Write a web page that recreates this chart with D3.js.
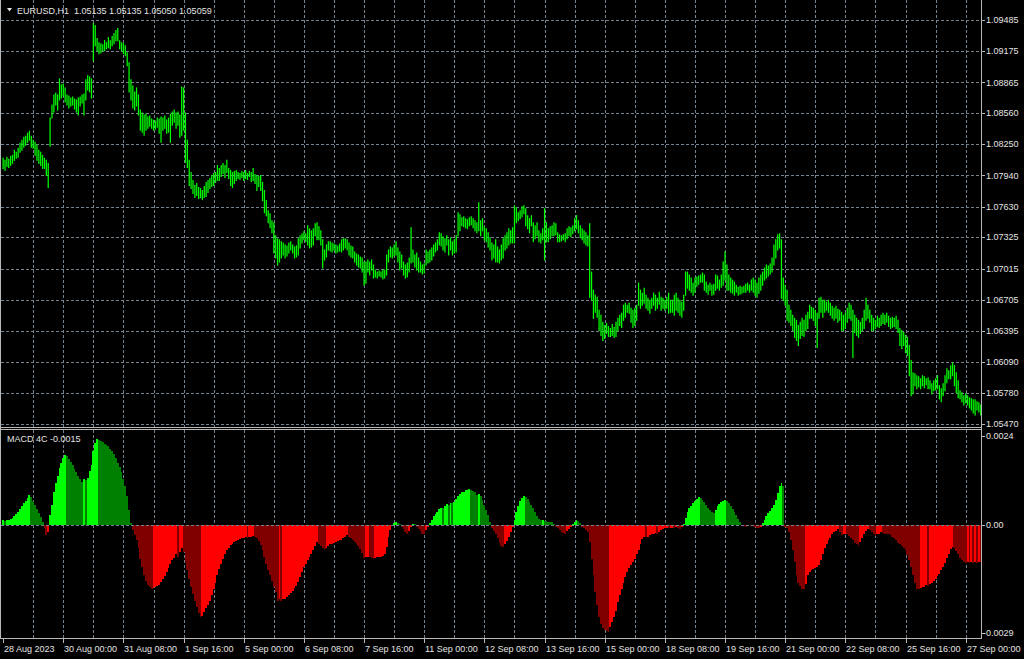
<!DOCTYPE html>
<html><head><meta charset="utf-8">
<script src="https://cdn.jsdelivr.net/npm/d3@7"></script>
<style>html,body{margin:0;padding:0;background:#000;overflow:hidden}</style>
</head><body>
<svg id="c" width="1024" height="659"></svg>
<script>
const symbolTitle = "EURUSD,H1  1.05135 1.05135 1.05050 1.05059";
const macdTitle = "MACD 4C -0.0015";
const tickBars = [0,32,64,96,128,160,192,224,256,288,320,352,384,416,448,480,512];
const tickLabels = ["28 Aug 2023","30 Aug 00:00","31 Aug 08:00","1 Sep 16:00","5 Sep 00:00","6 Sep 08:00","7 Sep 16:00","11 Sep 00:00","12 Sep 08:00","13 Sep 16:00","15 Sep 00:00","18 Sep 08:00","19 Sep 16:00","21 Sep 00:00","22 Sep 08:00","25 Sep 16:00","27 Sep 00:00"];
const priceTicks = [1.09485,1.09175,1.08865,1.08560,1.08250,1.07940,1.07630,1.07325,1.07015,1.06705,1.06395,1.06090,1.05780,1.05470];
const macdTicks = [0.0024,0,-0.0029];
const macdTickLabels = ["0.0024","0.00","-0.0029"];

const high = [
1.0811,1.0809,1.0812,1.0810,1.0813,1.0814,1.0819,1.0817,1.0821,1.0826,
1.0829,1.0832,1.0833,1.0836,1.0838,1.0833,1.0829,1.0827,1.0824,1.0819,
1.0817,1.0814,1.0811,1.0809,1.0806,1.0851,1.0864,1.0874,1.0876,1.0874,
1.0890,1.0884,1.0885,1.0881,1.0874,1.0873,1.0871,1.0872,1.0870,1.0869,
1.0871,1.0872,1.0874,1.0875,1.0889,1.0893,1.0892,1.0890,1.0945,1.0943,
1.0930,1.0926,1.0925,1.0924,1.0928,1.0926,1.0931,1.0928,1.0932,1.0935,
1.0938,1.0940,1.0928,1.0926,1.0925,1.0923,1.0916,1.0906,1.0889,1.0883,
1.0877,1.0881,1.0874,1.0859,1.0856,1.0854,1.0855,1.0852,1.0853,1.0850,
1.0849,1.0848,1.0851,1.0850,1.0852,1.0851,1.0853,1.0849,1.0851,1.0855,
1.0857,1.0859,1.0856,1.0857,1.0854,1.0882,1.0881,1.0856,1.0829,1.0809,
1.0797,1.0789,1.0784,1.0786,1.0782,1.0781,1.0779,1.0783,1.0787,1.0789,
1.0791,1.0794,1.0796,1.0797,1.0804,1.0801,1.0804,1.0806,1.0804,1.0809,
1.0801,1.0799,1.0797,1.0798,1.0799,1.0797,1.0796,1.0798,1.0797,1.0799,
1.0796,1.0798,1.0797,1.0801,1.0795,1.0794,1.0793,1.0794,1.0787,1.0779,
1.0769,1.0759,1.0756,1.0749,1.0747,1.0734,1.0731,1.0730,1.0728,1.0727,
1.0725,1.0724,1.0727,1.0728,1.0725,1.0723,1.0724,1.0731,1.0734,1.0736,
1.0738,1.0736,1.0744,1.0741,1.0739,1.0741,1.0746,1.0747,1.0743,1.0739,
1.0730,1.0720,1.0725,1.0728,1.0728,1.0727,1.0726,1.0725,1.0724,1.0726,
1.0730,1.0731,1.0731,1.0730,1.0727,1.0724,1.0723,1.0718,1.0716,1.0715,
1.0713,1.0712,1.0708,1.0708,1.0710,1.0708,1.0710,1.0705,1.0700,1.0698,
1.0699,1.0698,1.0700,1.0700,1.0715,1.0720,1.0723,1.0722,1.0725,1.0728,
1.0722,1.0718,1.0715,1.0708,1.0705,1.0707,1.0712,1.0742,1.0720,1.0715,
1.0717,1.0712,1.0708,1.0705,1.0706,1.0720,1.0718,1.0720,1.0722,1.0725,
1.0727,1.0730,1.0737,1.0736,1.0733,1.0731,1.0734,1.0730,1.0732,1.0728,
1.0730,1.0734,1.0757,1.0755,1.0752,1.0753,1.0751,1.0750,1.0752,1.0753,
1.0751,1.0749,1.0747,1.0767,1.0749,1.0751,1.0743,1.0741,1.0737,1.0732,
1.0727,1.0725,1.0730,1.0723,1.0720,1.0725,1.0731,1.0734,1.0737,1.0741,
1.0739,1.0742,1.0764,1.0762,1.0757,1.0759,1.0763,1.0764,1.0761,1.0754,
1.0751,1.0754,1.0747,1.0744,1.0747,1.0739,1.0736,1.0741,1.0761,1.0747,
1.0741,1.0743,1.0744,1.0747,1.0746,1.0737,1.0735,1.0734,1.0735,1.0736,
1.0741,1.0743,1.0742,1.0744,1.0751,1.0754,1.0749,1.0744,1.0741,1.0739,
1.0737,1.0734,1.0746,1.0698,1.0680,1.0675,1.0673,1.0660,1.0655,1.0648,
1.0645,1.0647,1.0644,1.0642,1.0646,1.0643,1.0648,1.0652,1.0655,1.0657,
1.0665,1.0667,1.0665,1.0667,1.0662,1.0660,1.0662,1.0665,1.0687,1.0680,
1.0677,1.0682,1.0675,1.0672,1.0670,1.0672,1.0677,1.0675,1.0672,1.0678,
1.0673,1.0672,1.0670,1.0673,1.0677,1.0670,1.0670,1.0675,1.0677,1.0672,
1.0670,1.0668,1.0675,1.0698,1.0698,1.0695,1.0692,1.0687,1.0692,1.0693,
1.0694,1.0695,1.0697,1.0695,1.0688,1.0685,1.0687,1.0685,1.0686,1.0695,
1.0694,1.0690,1.0695,1.0708,1.0718,1.0705,1.0695,1.0692,1.0690,1.0688,
1.0685,1.0683,1.0684,1.0683,1.0684,1.0686,1.0687,1.0685,1.0690,1.0692,
1.0690,1.0687,1.0692,1.0695,1.0698,1.0702,1.0705,1.0704,1.0706,1.0712,
1.0725,1.0730,1.0735,1.0736,1.0730,1.0692,1.0685,1.0680,1.0665,1.0660,
1.0655,1.0652,1.0650,1.0645,1.0648,1.0652,1.0650,1.0655,1.0658,1.0665,
1.0663,1.0662,1.0660,1.0657,1.0672,1.0673,1.0670,1.0670,1.0668,1.0670,
1.0667,1.0664,1.0662,1.0664,1.0661,1.0660,1.0658,1.0655,1.0657,1.0662,
1.0667,1.0665,1.0660,1.0655,1.0652,1.0650,1.0648,1.0652,1.0660,1.0672,
1.0665,1.0660,1.0655,1.0652,1.0650,1.0654,1.0652,1.0655,1.0657,1.0655,
1.0657,1.0654,1.0652,1.0653,1.0652,1.0654,1.0650,1.0642,1.0640,1.0638,
1.0635,1.0633,1.0625,1.0610,1.0598,1.0597,1.0595,1.0594,1.0592,1.0595,
1.0594,1.0592,1.0593,1.0590,1.0587,1.0590,1.0592,1.0595,1.0585,1.0582,
1.0587,1.0595,1.0602,1.0600,1.0605,1.0608,1.0605,1.0598,1.0590,1.0580,
1.0578,1.0575,1.0577,1.0575,1.0573,1.0572,1.0571,1.0571,1.0569,1.0568,1.0566];

const low = [
1.0801,1.0799,1.0803,1.0802,1.0804,1.0806,1.0809,1.0811,1.0812,1.0817,
1.0819,1.0822,1.0824,1.0827,1.0829,1.0822,1.0821,1.0814,1.0809,1.0806,
1.0804,1.0801,1.0801,1.0794,1.0782,1.0823,1.0851,1.0857,1.0864,1.0859,
1.0869,1.0871,1.0873,1.0867,1.0864,1.0861,1.0863,1.0864,1.0860,1.0857,
1.0854,1.0863,1.0866,1.0854,1.0869,1.0879,1.0877,1.0871,1.0908,1.0923,
1.0918,1.0915,1.0916,1.0918,1.0918,1.0920,1.0921,1.0920,1.0923,1.0925,
1.0928,1.0928,1.0920,1.0918,1.0915,1.0913,1.0903,1.0877,1.0869,1.0861,
1.0859,1.0863,1.0854,1.0839,1.0837,1.0834,1.0839,1.0841,1.0843,1.0841,
1.0839,1.0840,1.0842,1.0836,1.0827,1.0839,1.0841,1.0836,1.0837,1.0827,
1.0844,1.0847,1.0841,1.0844,1.0832,1.0834,1.0839,1.0807,1.0802,1.0784,
1.0781,1.0776,1.0772,1.0774,1.0771,1.0772,1.0770,1.0772,1.0773,1.0777,
1.0781,1.0783,1.0784,1.0787,1.0789,1.0789,1.0793,1.0796,1.0792,1.0797,
1.0791,1.0784,1.0782,1.0786,1.0789,1.0791,1.0790,1.0792,1.0789,1.0791,
1.0790,1.0793,1.0788,1.0789,1.0786,1.0779,1.0783,1.0779,1.0769,1.0757,
1.0754,1.0747,1.0742,1.0737,1.0717,1.0712,1.0705,1.0708,1.0712,1.0715,
1.0712,1.0714,1.0717,1.0720,1.0717,1.0712,1.0713,1.0715,1.0722,1.0727,
1.0730,1.0728,1.0725,1.0722,1.0723,1.0725,1.0734,1.0730,1.0730,1.0725,
1.0702,1.0710,1.0713,1.0720,1.0719,1.0718,1.0720,1.0717,1.0718,1.0719,
1.0718,1.0720,1.0722,1.0720,1.0715,1.0713,1.0712,1.0708,1.0705,1.0703,
1.0702,1.0698,1.0685,1.0687,1.0698,1.0695,1.0700,1.0692,1.0693,1.0692,
1.0694,1.0693,1.0691,1.0692,1.0695,1.0708,1.0713,1.0712,1.0714,1.0715,
1.0708,1.0700,1.0702,1.0695,1.0692,1.0693,1.0698,1.0707,1.0708,1.0703,
1.0700,1.0698,1.0698,1.0696,1.0697,1.0705,1.0707,1.0708,1.0710,1.0714,
1.0718,1.0720,1.0725,1.0724,1.0720,1.0718,1.0725,1.0715,1.0720,1.0715,
1.0717,1.0718,1.0734,1.0739,1.0744,1.0743,1.0742,1.0741,1.0744,1.0745,
1.0742,1.0739,1.0737,1.0739,1.0734,1.0739,1.0730,1.0728,1.0723,1.0720,
1.0710,1.0712,1.0708,1.0708,1.0707,1.0710,1.0712,1.0720,1.0722,1.0725,
1.0727,1.0727,1.0727,1.0747,1.0749,1.0751,1.0753,1.0756,1.0744,1.0741,
1.0737,1.0744,1.0728,1.0731,1.0734,1.0728,1.0727,1.0730,1.0710,1.0728,
1.0728,1.0731,1.0734,1.0734,1.0735,1.0728,1.0728,1.0729,1.0730,1.0728,
1.0731,1.0734,1.0733,1.0736,1.0739,1.0741,1.0737,1.0732,1.0730,1.0727,
1.0725,1.0724,1.0673,1.0670,1.0652,1.0658,1.0653,1.0640,1.0635,1.0630,
1.0632,1.0637,1.0634,1.0634,1.0635,1.0633,1.0634,1.0640,1.0645,1.0643,
1.0650,1.0653,1.0658,1.0657,1.0648,1.0643,1.0645,1.0650,1.0665,1.0662,
1.0665,1.0667,1.0662,1.0660,1.0657,1.0662,1.0665,1.0660,1.0662,1.0666,
1.0660,1.0662,1.0660,1.0662,1.0657,1.0658,1.0658,1.0655,1.0660,1.0658,
1.0655,1.0653,1.0660,1.0675,1.0682,1.0680,1.0678,1.0675,1.0678,1.0684,
1.0686,1.0688,1.0688,1.0680,1.0678,1.0676,1.0680,1.0675,1.0676,1.0680,
1.0682,1.0680,1.0683,1.0685,1.0690,1.0680,1.0680,1.0678,1.0677,1.0675,
1.0678,1.0675,1.0676,1.0677,1.0678,1.0678,1.0680,1.0678,1.0680,1.0678,
1.0675,1.0673,1.0677,1.0680,1.0685,1.0690,1.0692,1.0694,1.0696,1.0698,
1.0705,1.0712,1.0720,1.0722,1.0672,1.0670,1.0665,1.0650,1.0648,1.0645,
1.0640,1.0633,1.0630,1.0625,1.0632,1.0635,1.0634,1.0640,1.0642,1.0652,
1.0652,1.0650,1.0645,1.0623,1.0652,1.0658,1.0653,1.0658,1.0660,1.0658,
1.0655,1.0652,1.0650,1.0652,1.0648,1.0650,1.0640,1.0640,1.0642,1.0648,
1.0652,1.0650,1.0613,1.0638,1.0635,1.0633,1.0637,1.0640,1.0642,1.0650,
1.0652,1.0648,1.0640,1.0640,1.0642,1.0644,1.0643,1.0645,1.0647,1.0646,
1.0648,1.0644,1.0642,1.0643,1.0644,1.0642,1.0638,1.0625,1.0622,1.0625,
1.0618,1.0615,1.0595,1.0575,1.0577,1.0585,1.0582,1.0584,1.0582,1.0585,
1.0583,1.0586,1.0582,1.0582,1.0577,1.0580,1.0581,1.0582,1.0572,1.0569,
1.0575,1.0580,1.0588,1.0592,1.0592,1.0595,1.0585,1.0578,1.0573,1.0572,
1.0569,1.0566,1.0568,1.0566,1.0563,1.0561,1.0558,1.0556,1.0561,1.0559,1.0556];

const macd = [
13e-5,12e-5,13e-5,14e-5,16e-5,20e-5,25e-5,30e-5,36e-5,43e-5,
50e-5,58e-5,65e-5,72e-5,81e-5,74e-5,65e-5,54e-5,43e-5,32e-5,
22e-5,9e-5,-7e-5,-27e-5,-20e-5,27e-5,54e-5,90e-5,113e-5,131e-5,
153e-5,167e-5,180e-5,189e-5,185e-5,177e-5,169e-5,160e-5,151e-5,142e-5,
133e-5,124e-5,115e-5,123e-5,122e-5,126e-5,144e-5,162e-5,198e-5,221e-5,
230e-5,228e-5,225e-5,222e-5,219e-5,216e-5,212e-5,205e-5,200e-5,192e-5,
180e-5,167e-5,156e-5,142e-5,124e-5,104e-5,77e-5,41e-5,5e-5,-14e-5,
-27e-5,-41e-5,-63e-5,-90e-5,-113e-5,-135e-5,-151e-5,-160e-5,-167e-5,-171e-5,
-169e-5,-167e-5,-165e-5,-160e-5,-153e-5,-146e-5,-137e-5,-126e-5,-115e-5,-104e-5,
-95e-5,-88e-5,-79e-5,-86e-5,-72e-5,-63e-5,-72e-5,-99e-5,-122e-5,-144e-5,
-167e-5,-185e-5,-203e-5,-221e-5,-236e-5,-248e-5,-245e-5,-234e-5,-223e-5,-214e-5,
-203e-5,-189e-5,-173e-5,-155e-5,-135e-5,-117e-5,-104e-5,-90e-5,-77e-5,-68e-5,
-61e-5,-54e-5,-50e-5,-45e-5,-42e-5,-41e-5,-38e-5,-36e-5,-34e-5,-32e-5,
-34e-5,-32e-5,-31e-5,-30e-5,-32e-5,-36e-5,-43e-5,-54e-5,-68e-5,-86e-5,
-104e-5,-122e-5,-135e-5,-149e-5,-167e-5,-180e-5,-203e-5,-200e-5,-205e-5,-200e-5,
-198e-5,-194e-5,-189e-5,-182e-5,-176e-5,-169e-5,-164e-5,-153e-5,-140e-5,-126e-5,
-113e-5,-104e-5,-95e-5,-86e-5,-77e-5,-68e-5,-56e-5,-45e-5,-50e-5,-56e-5,
-63e-5,-65e-5,-61e-5,-57e-5,-52e-5,-50e-5,-47e-5,-45e-5,-42e-5,-41e-5,
-39e-5,-36e-5,-32e-5,-27e-5,-32e-5,-36e-5,-41e-5,-45e-5,-50e-5,-56e-5,
-65e-5,-74e-5,-88e-5,-86e-5,-85e-5,-87e-5,-89e-5,-91e-5,-89e-5,-87e-5,
-86e-5,-85e-5,-83e-5,-79e-5,-59e-5,-32e-5,-14e-5,-3e-5,5e-5,7e-5,
5e-5,3e-5,-5e-5,-11e-5,-18e-5,-23e-5,-16e-5,-5e-5,4e-5,2e-5,
-5e-5,-11e-5,-16e-5,-23e-5,-24e-5,-14e-5,-5e-5,5e-5,14e-5,23e-5,
30e-5,36e-5,43e-5,47e-5,45e-5,50e-5,56e-5,54e-5,59e-5,58e-5,
63e-5,70e-5,77e-5,83e-5,88e-5,90e-5,94e-5,95e-5,97e-5,94e-5,
92e-5,90e-5,81e-5,83e-5,77e-5,66e-5,54e-5,41e-5,27e-5,7e-5,
-7e-5,-16e-5,-25e-5,-36e-5,-47e-5,-56e-5,-59e-5,-52e-5,-43e-5,-32e-5,
-18e-5,-5e-5,14e-5,36e-5,52e-5,65e-5,72e-5,77e-5,74e-5,70e-5,
63e-5,54e-5,45e-5,34e-5,25e-5,16e-5,13e-5,14e-5,12e-5,11e-5,
9e-5,8e-5,7e-5,3e-5,-5e-5,-9e-5,-14e-5,-18e-5,-22e-5,-23e-5,
-16e-5,-11e-5,-5e-5,3e-5,9e-5,14e-5,11e-5,5e-5,-5e-5,-7e-5,
-13e-5,-18e-5,-45e-5,-90e-5,-135e-5,-180e-5,-216e-5,-248e-5,-266e-5,-277e-5,
-281e-5,-284e-5,-286e-5,-275e-5,-261e-5,-248e-5,-230e-5,-207e-5,-189e-5,-171e-5,
-155e-5,-140e-5,-126e-5,-115e-5,-106e-5,-99e-5,-90e-5,-79e-5,-68e-5,-52e-5,
-38e-5,-32e-5,-33e-5,-31e-5,-27e-5,-25e-5,-23e-5,-22e-5,-23e-5,-18e-5,
-14e-5,-11e-5,-9e-5,-7e-5,-9e-5,-8e-5,-7e-5,-9e-5,-5e-5,-8e-5,
-11e-5,-5e-5,2e-5,18e-5,36e-5,45e-5,52e-5,59e-5,65e-5,70e-5,
76e-5,72e-5,68e-5,61e-5,54e-5,47e-5,41e-5,36e-5,32e-5,41e-5,
50e-5,56e-5,61e-5,65e-5,68e-5,65e-5,59e-5,51e-5,43e-5,36e-5,
27e-5,16e-5,7e-5,1e-5,-2e-5,-4e-5,-2e-5,-1e-5,-2e-5,-3e-5,
-5e-5,-7e-5,-9e-5,-5e-5,5e-5,14e-5,23e-5,32e-5,38e-5,45e-5,
54e-5,68e-5,86e-5,104e-5,113e-5,106e-5,-5e-5,-9e-5,-18e-5,-41e-5,
-68e-5,-99e-5,-135e-5,-155e-5,-164e-5,-171e-5,-173e-5,-158e-5,-135e-5,-126e-5,
-120e-5,-117e-5,-115e-5,-112e-5,-106e-5,-95e-5,-79e-5,-63e-5,-52e-5,-41e-5,
-34e-5,-23e-5,-18e-5,-15e-5,-11e-5,-20e-5,-27e-5,-25e-5,-23e-5,-25e-5,
-29e-5,-34e-5,-41e-5,-47e-5,-52e-5,-56e-5,-45e-5,-34e-5,-25e-5,-16e-5,
-11e-5,-14e-5,-20e-5,-25e-5,-29e-5,-25e-5,-23e-5,-20e-5,-22e-5,-23e-5,
-24e-5,-25e-5,-27e-5,-32e-5,-36e-5,-41e-5,-47e-5,-52e-5,-56e-5,-61e-5,
-68e-5,-81e-5,-95e-5,-113e-5,-135e-5,-155e-5,-171e-5,-173e-5,-169e-5,-167e-5,
-166e-5,-162e-5,-164e-5,-158e-5,-155e-5,-149e-5,-144e-5,-137e-5,-131e-5,-122e-5,
-113e-5,-101e-5,-88e-5,-77e-5,-65e-5,-59e-5,-63e-5,-70e-5,-79e-5,-88e-5,
-95e-5,-99e-5,-101e-5,-99e-5,-101e-5,-99e-5,-101e-5,-100e-5,-102e-5,-99e-5,-100e-5];

const svg = d3.select("#c");
const FONT = "'Liberation Sans', Arial, sans-serif";
const FS = 9;
const TXT = "#e4e4e4";
const GRID = "#74828f";
const FRAME = "#b8b8b8";
const axisX = 981;
const pTop = 0, pBot = 427, mTop = 430, mBot = 638;

svg.append("rect").attr("width",1024).attr("height",659).attr("fill","#000");

const x = d3.scaleLinear().domain([0,512]).range([3.1,965.7]);
const yP = d3.scaleLinear().domain([1.05470,1.09485]).range([424,20]);
const yM = d3.scaleLinear().domain([-0.0029,0.0024]).range([633,435.7]);

const defs = svg.append("defs");
defs.append("clipPath").attr("id","cp").append("rect").attr("x",1).attr("y",pTop).attr("width",axisX-1).attr("height",pBot-pTop);
defs.append("clipPath").attr("id","cm").append("rect").attr("x",1).attr("y",mTop).attr("width",axisX-1).attr("height",mBot-mTop);

// grids
const gridBars = d3.range(16, high.length, 16);
const grid = svg.append("g").attr("stroke",GRID).attr("stroke-width",1).attr("stroke-dasharray","3,2").attr("shape-rendering","crispEdges");
grid.selectAll("line.hp").data(priceTicks).join("line")
  .attr("x1",1).attr("x2",axisX).attr("y1",d=>Math.round(yP(d))+0.5).attr("y2",d=>Math.round(yP(d))+0.5);
grid.selectAll("line.vp").data(gridBars).join("line")
  .attr("x1",d=>Math.round(x(d))+0.5).attr("x2",d=>Math.round(x(d))+0.5).attr("y1",pTop).attr("y2",pBot);
grid.selectAll("line.vm").data(gridBars).join("line")
  .attr("x1",d=>Math.round(x(d))+0.5).attr("x2",d=>Math.round(x(d))+0.5).attr("y1",mTop).attr("y2",mBot);

// MACD histogram
const col = (v,p) => v > 0 ? (v >= p ? "#00ff00" : "#008000") : (v < p ? "#800000" : "#ff0000");
const mg = svg.append("g").attr("clip-path","url(#cm)").attr("shape-rendering","crispEdges");
const idx = d3.range(macd.length);
mg.selectAll("rect").data(idx).join("rect")
  .attr("x", i => Math.round(x(i-0.5)))
  .attr("width", i => Math.max(1, Math.round(x(i+0.5)) - Math.round(x(i-0.5))))
  .attr("y", i => Math.min(yM(macd[i]), yM(0)))
  .attr("height", i => Math.abs(yM(macd[i]) - yM(0)))
  .attr("fill", i => col(macd[i], i ? macd[i-1] : 0));
svg.append("line").attr("x1",1).attr("x2",axisX).attr("y1",Math.round(yM(0))+0.5).attr("y2",Math.round(yM(0))+0.5)
  .attr("stroke",GRID).attr("stroke-dasharray","3,2").attr("shape-rendering","crispEdges");

// price bars (high-low lines)
const pg = svg.append("g").attr("clip-path","url(#cp)");
pg.selectAll("line").data(d3.range(high.length)).join("line")
  .attr("x1", i => x(i)).attr("x2", i => x(i))
  .attr("y1", i => yP(high[i]) - 0.5).attr("y2", i => yP(low[i]) + 0.5)
  .attr("stroke","#00ff00").attr("stroke-width",1.25);

// frames
const fr = svg.append("g").attr("stroke",FRAME).attr("stroke-width",1).attr("shape-rendering","crispEdges");
fr.append("line").attr("x1",0.5).attr("x2",0.5).attr("y1",0).attr("y2",mBot+1);
fr.append("line").attr("x1",axisX+0.5).attr("x2",axisX+0.5).attr("y1",0).attr("y2",mBot+1);
fr.append("line").attr("x1",0).attr("x2",axisX+1).attr("y1",pBot+0.5).attr("y2",pBot+0.5);
fr.append("line").attr("x1",0).attr("x2",axisX+1).attr("y1",mTop-0.5).attr("y2",mTop-0.5);
fr.append("line").attr("x1",0).attr("x2",axisX+1).attr("y1",mBot+0.5).attr("y2",mBot+0.5);

// price axis
const pa = svg.append("g");
pa.selectAll("line").data(priceTicks).join("line")
  .attr("x1",axisX+1).attr("x2",axisX+4).attr("y1",d=>Math.round(yP(d))+0.5).attr("y2",d=>Math.round(yP(d))+0.5)
  .attr("stroke",FRAME).attr("shape-rendering","crispEdges");
pa.selectAll("text").data(priceTicks).join("text")
  .attr("x",axisX+5).attr("y",d=>yP(d)).attr("dy","0.35em")
  .attr("font-family",FONT).attr("font-size",FS).attr("fill",TXT)
  .text(d=>d.toFixed(5));

// MACD axis
const ma = svg.append("g");
ma.selectAll("line").data(macdTicks).join("line")
  .attr("x1",axisX+1).attr("x2",axisX+4).attr("y1",d=>Math.round(yM(d))+0.5).attr("y2",d=>Math.round(yM(d))+0.5)
  .attr("stroke",FRAME).attr("shape-rendering","crispEdges");
ma.selectAll("text").data(macdTicks).join("text")
  .attr("x",(d,i)=> macdTickLabels[i].startsWith("-") ? axisX+2 : axisX+5)
  .attr("y",d=>yM(d)).attr("dy","0.35em")
  .attr("font-family",FONT).attr("font-size",FS).attr("fill",TXT)
  .text((d,i)=>macdTickLabels[i]);

// time axis
const ta = svg.append("g");
ta.selectAll("line").data(tickBars).join("line")
  .attr("x1",d=>Math.round(x(d))+0.5).attr("x2",d=>Math.round(x(d))+0.5).attr("y1",mBot+1).attr("y2",mBot+5)
  .attr("stroke",FRAME).attr("shape-rendering","crispEdges");
ta.selectAll("text").data(tickBars).join("text")
  .attr("x",d=>Math.round(x(d))+1).attr("y",652)
  .attr("font-family",FONT).attr("font-size",FS).attr("fill",TXT)
  .text((d,i)=>tickLabels[i]);

// titles
svg.append("path").attr("d","M7,8 L12,8 L9.5,11.5 Z").attr("fill",TXT);
svg.append("text").attr("x",17).attr("y",13.5).attr("font-family",FONT).attr("font-size",FS).attr("fill",TXT)
  .style("white-space","pre").text(symbolTitle);
svg.append("text").attr("x",7).attr("y",441.5).attr("font-family",FONT).attr("font-size",FS).attr("fill",TXT)
  .text(macdTitle);
</script>
</body></html>
